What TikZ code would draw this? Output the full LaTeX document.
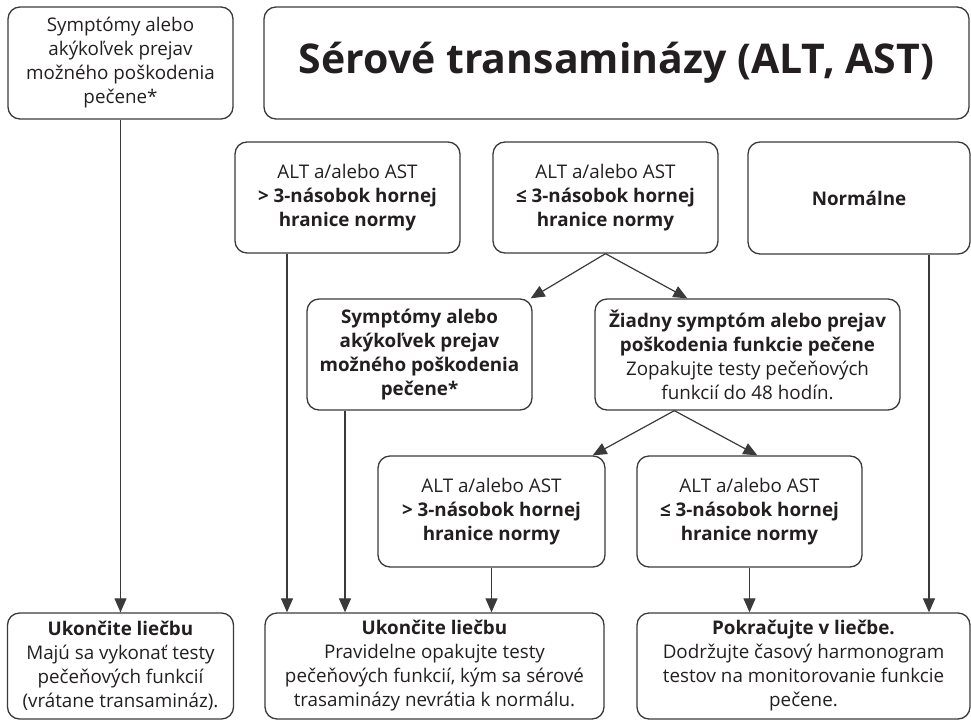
\documentclass[tikz,border=0pt]{standalone}
\usepackage{fontspec}
\setmainfont{Open Sans}
\usepackage{tikz}
\usetikzlibrary{arrows.meta}
\definecolor{linec}{HTML}{3A3A3A}
\definecolor{textc}{HTML}{231F20}

\begin{document}
\begin{tikzpicture}[x=1pt,y=-1pt,
  box/.style={draw=linec,line width=1.3pt,rounded corners=12pt,align=center,inner sep=0pt,text=textc,
    font=\fontsize{18.8}{24}\selectfont},
  arr/.style={draw=linec,line width=1.2pt,-{Triangle[length=14pt,width=12pt]}}]
\useasboundingbox (0,0) rectangle (971,720);
\node[box,minimum width=225pt,minimum height=112pt] (a) at (120.5,63) {Symptómy alebo\\akýkoľvek prejav\\možného poškodenia\\pečene*};
\node[box,minimum width=705pt,minimum height=112pt,font=\fontsize{41}{48}\selectfont\bfseries] (title) at (616.5,63) {Sérové transaminázy (ALT, AST)};
\node[box,minimum width=225pt,minimum height=111pt] (b1) at (347.5,197.5) {ALT a/alebo AST\\\textbf{> 3-násobok hornej}\\\textbf{hranice normy}};
\node[box,minimum width=225pt,minimum height=111pt] (b2) at (605.5,197.5) {ALT a/alebo AST\\\textbf{≤ 3-násobok hornej}\\\textbf{hranice normy}};
\node[box,minimum width=222pt,minimum height=112pt] (b3) at (859,198) {\textbf{Normálne}};
\node[box,minimum width=225pt,minimum height=111pt] (c1) at (419.5,354.5) {\textbf{Symptómy alebo}\\\textbf{akýkoľvek prejav}\\\textbf{možného poškodenia}\\\textbf{pečene*}};
\node[box,minimum width=305pt,minimum height=111pt] (c2) at (747.5,354.5) {\textbf{Žiadny symptóm alebo prejav}\\\textbf{poškodenia funkcie pečene}\\Zopakujte testy pečeňových\\funkcií do 48 hodín.};
\node[box,minimum width=227pt,minimum height=111pt] (d1) at (491.5,511.5) {ALT a/alebo AST\\\textbf{> 3-násobok hornej}\\\textbf{hranice normy}};
\node[box,minimum width=225pt,minimum height=111pt] (d2) at (749.5,511.5) {ALT a/alebo AST\\\textbf{≤ 3-násobok hornej}\\\textbf{hranice normy}};
\node[box,minimum width=226pt,minimum height=106pt] (e1) at (120.5,666) {\textbf{Ukončite liečbu}\\Majú sa vykonať testy\\pečeňových funkcií\\(vrátane transamináz).};
\node[box,minimum width=339pt,minimum height=106pt] (e2) at (434.5,666) {\textbf{Ukončite liečbu}\\Pravidelne opakujte testy\\pečeňových funkcií, kým sa sérové\\trasaminázy nevrátia k normálu.};
\node[box,minimum width=333pt,minimum height=106pt] (e3) at (803.5,666) {\textbf{Pokračujte v liečbe.}\\Dodržujte časový harmonogram\\testov na monitorovanie funkcie\\pečene.};
\draw[arr] (a) -- (e1);
\draw[arr] ([xshift=-60.5pt]b1.south) -- ([xshift=-60.5pt]b1.south |- e2.north);
\draw[arr] ([xshift=-74.5pt]c1.south) -- ([xshift=-74.5pt]c1.south |- e2.north);
\draw[arr] (d1.south) -- (d1.south |- e2.north);
\draw[arr] (d2.south) -- (d2.south |- e3.north);
\draw[arr] ([xshift=70pt]b3.south) -- ([xshift=70pt]b3.south |- e3.north);
\draw[arr] (b2.south) -- ([xshift=-2pt]c1.north east);
\draw[arr] (b2.south) -- ([xshift=93pt]c2.north west);
\draw[arr] ([xshift=80pt]c2.south west) -- ([xshift=-13pt]d1.north east);
\draw[arr] ([xshift=80pt]c2.south west) -- ([xshift=121pt]d2.north west);
\end{tikzpicture}
\end{document}
